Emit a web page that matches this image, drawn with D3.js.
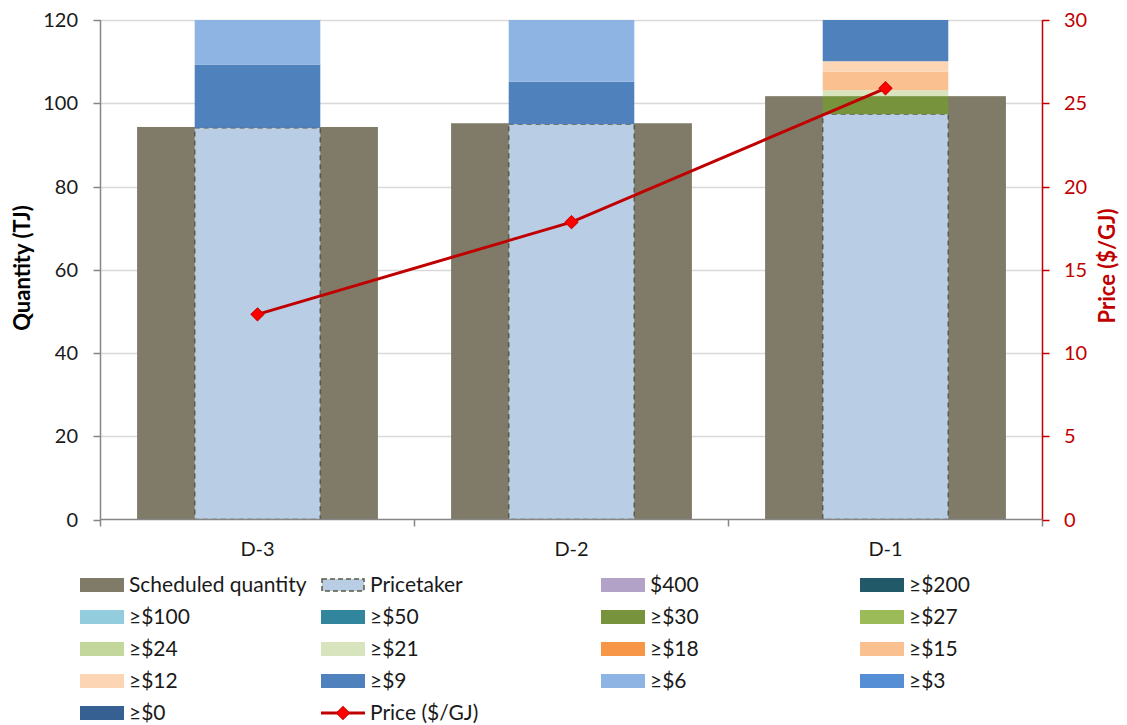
<!DOCTYPE html>
<html>
<head>
<meta charset="utf-8">
<script src="https://cdn.jsdelivr.net/npm/d3@7"></script>
<style>
  html, body { margin: 0; padding: 0; background: #fff; }
  svg { display: block; font-family: Lato, "Open Sans", sans-serif; }
</style>
</head>
<body>
<svg id="chart" width="1127" height="725"></svg>
<script>
// Trading days
const categories = ["D-3", "D-2", "D-1"];

// Scheduled quantity (TJ)
const scheduled = [94.3, 95.2, 101.7];

// Bid stack bands (TJ), bottom to top
const bandNames  = ["Pricetaker", "$400", "≥$200", "≥$100", "≥$50", "≥$30", "≥$27", "≥$24", "≥$21", "≥$18", "≥$15", "≥$12", "≥$9", "≥$6", "≥$3", "≥$0"];
const bandColors = ["#b9cde5", "#b3a2c7", "#215968", "#93cddd", "#31859c", "#77933c", "#9bbb59", "#c3d69b", "#d7e4bd", "#f79646", "#fac090", "#fcd5b5", "#4f81bd", "#8eb4e3", "#558ed5", "#376092"];
const bandD3 = [94.1, 0, 0, 0, 0, 0,   0, 0, 0,   0, 0,   0,   15.2, 14.0, 0, 0];
const bandD2 = [95.0, 0, 0, 0, 0, 0,   0, 0, 0,   0, 0,   0,   10.2, 18.0, 0, 0];
const bandD1 = [97.4, 0, 0, 0, 0, 4.3, 0, 0, 1.4, 0, 4.5, 2.5, 12.0, 8.0,  0, 0];

// Price ($/GJ)
const price = [12.32, 17.86, 25.9];

const qtyTicks = [0, 20, 40, 60, 80, 100, 120];
const priceTicks = [0, 5, 10, 15, 20, 25, 30];

const svg = d3.select("#chart");
const m = { left: 100.5, right: 1042.5, top: 20, bottom: 519.5 };
const fs = 20;
const legendFs = 21;

const x = d3.scaleBand().domain(categories).range([m.left, m.right]).padding(0);
const y = d3.scaleLinear().domain([0, 120]).range([m.bottom, m.top]);
const y2 = d3.scaleLinear().domain([0, 30]).range([m.bottom, m.top]);

svg.append("defs").append("clipPath").attr("id", "plot")
  .append("rect").attr("x", m.left).attr("y", m.top)
  .attr("width", m.right - m.left).attr("height", m.bottom - m.top);

// Gridlines
svg.append("g").selectAll("line").data(qtyTicks.slice(1)).join("line")
  .attr("x1", m.left).attr("x2", m.right)
  .attr("y1", d => Math.round(y(d)) + 0.5).attr("y2", d => Math.round(y(d)) + 0.5)
  .attr("stroke", "#d9d9d9").attr("stroke-width", 1.5);

const plot = svg.append("g").attr("clip-path", "url(#plot)");

// Scheduled quantity bars
const wideW = x.bandwidth() * 0.767;
plot.append("g").selectAll("rect").data(categories).join("rect")
  .attr("x", d => x(d) + (x.bandwidth() - wideW) / 2)
  .attr("width", wideW)
  .attr("y", (d, i) => y(scheduled[i]))
  .attr("height", (d, i) => y(0) - y(scheduled[i]))
  .attr("fill", "#7f7b68");

// Stacked bid bands
const rows = categories.map((c, i) => {
  const vals = [bandD3, bandD2, bandD1][i];
  const r = { cat: c };
  bandNames.forEach((n, j) => r[n] = vals[j]);
  return r;
});
const stack = d3.stack().keys(bandNames)(rows);
const narrowW = x.bandwidth() * 0.4;
const bx = d => x(d.data.cat) + (x.bandwidth() - narrowW) / 2;

stack.forEach((layer, j) => {
  const g = plot.append("g");
  g.selectAll("rect").data(layer.filter(d => d[1] > d[0])).join("rect")
    .attr("x", bx)
    .attr("width", narrowW)
    .attr("y", d => y(d[1]))
    .attr("height", d => y(d[0]) - y(d[1]))
    .attr("fill", bandColors[j])
    .attr("stroke", j === 0 ? "#595946" : "none")
    .attr("stroke-width", j === 0 ? 1.5 : 0)
    .attr("stroke-dasharray", j === 0 ? "5,4" : null);
});

// Axes
const axisColor = "#868686";
svg.append("line").attr("x1", m.left).attr("x2", m.right).attr("y1", m.bottom).attr("y2", m.bottom)
  .attr("stroke", axisColor).attr("stroke-width", 1.5);
svg.append("line").attr("x1", m.left).attr("x2", m.left).attr("y1", m.top).attr("y2", m.bottom)
  .attr("stroke", axisColor).attr("stroke-width", 1.5);

// Left ticks
const gl = svg.append("g");
gl.selectAll("line").data(qtyTicks).join("line")
  .attr("x1", m.left - 7).attr("x2", m.left)
  .attr("y1", d => Math.round(y(d)) + 0.5).attr("y2", d => Math.round(y(d)) + 0.5)
  .attr("stroke", axisColor).attr("stroke-width", 1.5);
gl.selectAll("text").data(qtyTicks).join("text")
  .attr("x", 78).attr("y", d => y(d)).attr("dy", "0.35em")
  .attr("text-anchor", "end").attr("font-size", fs).attr("fill", "#1a1a1a")
  .text(d => d);

// Bottom ticks at category boundaries
const bounds = categories.map(c => x(c)).concat([m.right]);
svg.append("g").selectAll("line").data(bounds).join("line")
  .attr("x1", d => d).attr("x2", d => d).attr("y1", m.bottom).attr("y2", m.bottom + 7)
  .attr("stroke", axisColor).attr("stroke-width", 1.5);
svg.append("g").selectAll("text").data(categories).join("text")
  .attr("x", d => x(d) + x.bandwidth() / 2).attr("y", 549).attr("dy", "0.35em")
  .attr("text-anchor", "middle").attr("font-size", fs).attr("fill", "#1a1a1a")
  .text(d => d);

// Right axis
const red = "#c00000";
svg.append("line").attr("x1", m.right).attr("x2", m.right).attr("y1", m.top).attr("y2", m.bottom)
  .attr("stroke", red).attr("stroke-width", 1.5);
const gr = svg.append("g");
gr.selectAll("line").data(priceTicks).join("line")
  .attr("x1", m.right).attr("x2", m.right + 7)
  .attr("y1", d => Math.round(y2(d)) + 0.5).attr("y2", d => Math.round(y2(d)) + 0.5)
  .attr("stroke", red).attr("stroke-width", 1.5);
gr.selectAll("text").data(priceTicks).join("text")
  .attr("x", 1064).attr("y", d => y2(d)).attr("dy", "0.35em")
  .attr("text-anchor", "start").attr("font-size", fs).attr("fill", red)
  .text(d => d);

// Axis titles
svg.append("text").attr("transform", "translate(22,268) rotate(-90)")
  .attr("dy", "0.35em")
  .attr("text-anchor", "middle").attr("font-size", 22).attr("font-weight", "bold").attr("fill", "#000")
  .text("Quantity (TJ)");
svg.append("text").attr("transform", "translate(1107,266) rotate(-90)")
  .attr("dy", "0.35em")
  .attr("text-anchor", "middle").attr("font-size", 22).attr("font-weight", "bold").attr("fill", red)
  .text("Price ($/GJ)");

// Price line
const cx = c => x(c) + x.bandwidth() / 2;
svg.append("path")
  .datum(price)
  .attr("d", d3.line().x((d, i) => cx(categories[i])).y(d => y2(d)))
  .attr("fill", "none").attr("stroke", red).attr("stroke-width", 3);
const marker = d3.symbol().type(d3.symbolSquare).size(85);
svg.append("g").selectAll("path").data(price).join("path")
  .attr("transform", (d, i) => `translate(${cx(categories[i])},${y2(d)}) rotate(45)`)
  .attr("d", marker)
  .attr("fill", "#ff0000").attr("stroke", "#d00000").attr("stroke-width", 1);

// Legend
const legendItems = [{ name: "Scheduled quantity", color: "#7f7b68" }]
  .concat(bandNames.map((n, j) => ({ name: n, color: bandColors[j] })))
  .concat([{ name: "Price ($/GJ)", line: true }]);
const colX = [80, 321, 601, 860];
const rowY = [585, 617, 649, 681, 713];
const lg = svg.append("g");
legendItems.forEach((it, k) => {
  const cxL = colX[k % 4], cyL = rowY[Math.floor(k / 4)];
  const g = lg.append("g");
  if (it.line) {
    g.append("line").attr("x1", cxL).attr("x2", cxL + 44).attr("y1", cyL).attr("y2", cyL)
      .attr("stroke", red).attr("stroke-width", 3);
    g.append("path").attr("transform", `translate(${cxL + 22},${cyL}) rotate(45)`).attr("d", marker)
      .attr("fill", "#ff0000").attr("stroke", "#d00000");
  } else {
    const pt = it.name === "Pricetaker";
    g.append("rect").attr("x", cxL + (pt ? 1 : 0)).attr("y", cyL - 7 + (pt ? 1 : 0))
      .attr("width", pt ? 42 : 44).attr("height", pt ? 12 : 14)
      .attr("fill", it.color)
      .attr("stroke", pt ? "#595946" : "none").attr("stroke-width", pt ? 1.5 : 0)
      .attr("stroke-dasharray", pt ? "5,3" : null);
  }
  g.append("text").attr("x", cxL + 49).attr("y", cyL).attr("dy", "0.35em")
    .attr("font-size", legendFs).attr("fill", "#1a1a1a").text(it.name);
});
</script>
</body>
</html>
